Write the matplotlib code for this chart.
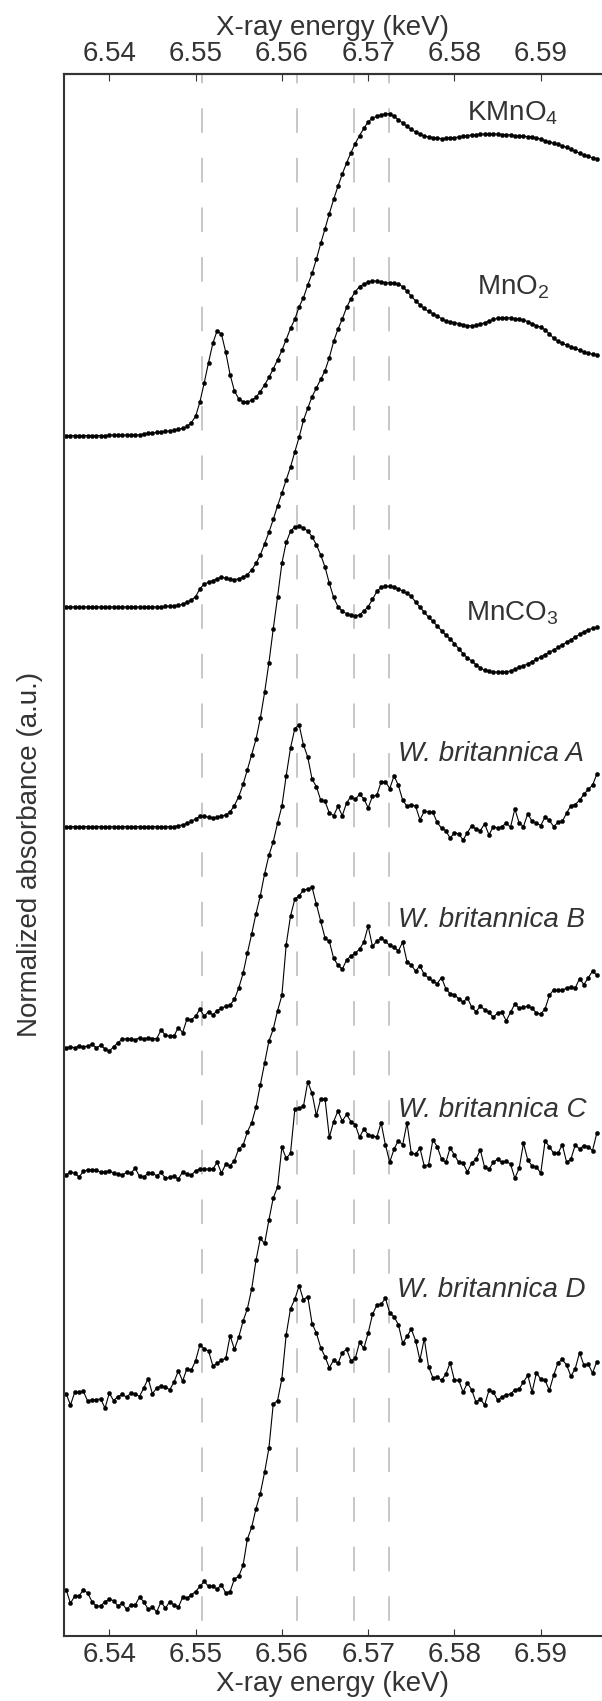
import numpy as np
import matplotlib
matplotlib.use('Agg')
import matplotlib.pyplot as plt

plt.rcParams['font.family'] = ['Liberation Sans', 'DejaVu Sans']
plt.rcParams['mathtext.default'] = 'regular'

# energy grid (keV), 0.5 eV steps
energia = np.round(6.535 + 0.0005 * np.arange(124), 4)

# normalized absorbance, each spectrum relative to its own pre-edge
kmno4 = [0.0, 0.0, 0.0, 0.0, 0.0, 0.0, 0.0, 0.0, 0.0, 0.0,
         0.005, 0.005, 0.005, 0.005, 0.005, 0.005, 0.005, 0.005, 0.015, 0.02,
         0.025, 0.03, 0.035, 0.04, 0.045, 0.052, 0.062, 0.07, 0.09, 0.125,
         0.19, 0.33, 0.52, 0.72, 0.91, 1.035, 1.0, 0.82, 0.6, 0.44,
         0.362, 0.332, 0.332, 0.347, 0.377, 0.433, 0.5, 0.573, 0.657, 0.747,
         0.84, 0.947, 1.057, 1.147, 1.27, 1.36, 1.485, 1.6, 1.74, 1.895,
         2.04, 2.19, 2.33, 2.46, 2.58, 2.69, 2.79, 2.88, 2.96, 3.03,
         3.095, 3.13, 3.15, 3.16, 3.173, 3.175, 3.148, 3.117, 3.082, 3.05,
         3.02, 2.995, 2.973, 2.955, 2.947, 2.94, 2.933, 2.93, 2.933, 2.94,
         2.94, 2.945, 2.955, 2.96, 2.965, 2.97, 2.972, 2.973, 2.976, 2.977,
         2.973, 2.97, 2.97, 2.965, 2.958, 2.955, 2.952, 2.948, 2.945, 2.937,
         2.924, 2.908, 2.895, 2.885, 2.872, 2.858, 2.842, 2.823, 2.803, 2.785,
         2.768, 2.753, 2.74, 2.73]

mno2 = [0.0, 0.0, 0.0, 0.0, 0.0, 0.0, 0.0, 0.0, 0.0, 0.0,
        0.0, 0.0, 0.0, 0.0, 0.0, 0.0, 0.0, 0.0, 0.0, 0.0,
        0.0, 0.0, 0.0, 0.005, 0.008, 0.012, 0.015, 0.028, 0.045, 0.068,
        0.1, 0.18, 0.225, 0.243, 0.26, 0.277, 0.293, 0.285, 0.272, 0.27,
        0.277, 0.293, 0.318, 0.365, 0.43, 0.513, 0.623, 0.737, 0.863, 0.997,
        1.123, 1.253, 1.38, 1.53, 1.675, 1.84, 1.96, 2.075, 2.16, 2.245,
        2.33, 2.46, 2.62, 2.74, 2.84, 2.955, 3.04, 3.11, 3.16, 3.185,
        3.205, 3.215, 3.215, 3.208, 3.2, 3.197, 3.195, 3.185, 3.16, 3.115,
        3.065, 3.02, 2.98, 2.945, 2.915, 2.893, 2.87, 2.845, 2.822, 2.81,
        2.805, 2.795, 2.785, 2.776, 2.773, 2.778, 2.79, 2.804, 2.82, 2.836,
        2.847, 2.852, 2.853, 2.851, 2.845, 2.838, 2.832, 2.815, 2.793, 2.775,
        2.76, 2.735, 2.695, 2.65, 2.62, 2.6, 2.583, 2.566, 2.55, 2.532,
        2.517, 2.504, 2.492, 2.482]

mnco3 = [0.0, 0.0, 0.0, 0.0, 0.0, 0.0, 0.0, 0.0, 0.0, 0.0,
         0.0, 0.0, 0.0, 0.0, 0.0, 0.0, 0.0, 0.0, 0.0, 0.0,
         0.0, 0.0, 0.0, 0.0, 0.0, 0.0, 0.008, 0.017, 0.03, 0.05,
         0.075, 0.1, 0.1, 0.093, 0.085, 0.09, 0.1, 0.115, 0.145, 0.207,
         0.295, 0.415, 0.56, 0.71, 0.86, 1.067, 1.323, 1.617, 1.95, 2.265,
         2.597, 2.803, 2.913, 2.957, 2.963, 2.947, 2.915, 2.86, 2.78, 2.68,
         2.56, 2.4, 2.26, 2.17, 2.125, 2.1, 2.083, 2.075, 2.09, 2.125,
         2.17, 2.24, 2.32, 2.36, 2.37, 2.37, 2.362, 2.345, 2.325, 2.3,
         2.27, 2.215, 2.165, 2.115, 2.065, 2.025, 1.98, 1.932, 1.89, 1.85,
         1.805, 1.755, 1.705, 1.665, 1.632, 1.598, 1.565, 1.54, 1.53, 1.525,
         1.523, 1.523, 1.525, 1.535, 1.552, 1.57, 1.587, 1.605, 1.628, 1.65,
         1.673, 1.697, 1.72, 1.742, 1.767, 1.792, 1.818, 1.845, 1.87, 1.895,
         1.922, 1.942, 1.955, 1.966]

wb_a = [0.0, 0.01, 0.0, 0.017, 0.01, 0.017, 0.033, 0.0, 0.023, -0.01,
        -0.033, 0.01, 0.05, 0.083, 0.09, 0.083, 0.077, 0.1, 0.083, 0.1,
        0.09, 0.09, 0.177, 0.123, 0.117, 0.117, 0.2, 0.15, 0.283, 0.277,
        0.31, 0.383, 0.31, 0.357, 0.323, 0.367, 0.39, 0.41, 0.423, 0.477,
        0.59, 0.733, 0.933, 1.123, 1.323, 1.5, 1.717, 1.9, 2.033, 2.217,
        2.383, 2.683, 2.957, 3.15, 3.185, 2.99, 2.867, 2.65, 2.577, 2.443,
        2.43, 2.317, 2.29, 2.383, 2.29, 2.417, 2.477, 2.45, 2.5, 2.457,
        2.367, 2.483, 2.49, 2.623, 2.627, 2.557, 2.683, 2.59, 2.443, 2.383,
        2.4, 2.383, 2.25, 2.333, 2.327, 2.323, 2.223, 2.167, 2.143, 2.067,
        2.123, 2.11, 2.05, 2.123, 2.19, 2.157, 2.143, 2.21, 2.1, 2.183,
        2.167, 2.183, 2.217, 2.177, 2.357, 2.217, 2.183, 2.31, 2.233, 2.217,
        2.193, 2.277, 2.243, 2.183, 2.223, 2.233, 2.317, 2.39, 2.4, 2.443,
        2.5, 2.55, 2.59, 2.7]

wb_b = [-0.007, 0.023, 0.007, -0.027, 0.027, 0.043, 0.04, 0.04, 0.017, 0.023,
        0.033, 0.01, 0.0, -0.007, 0.017, 0.007, 0.06, -0.023, -0.027, 0.008,
        0.01, -0.017, 0.017, -0.04, -0.033, -0.017, -0.05, 0.023, 0.0, -0.01,
        0.033, 0.05, 0.05, 0.05, 0.05, 0.117, 0.01, 0.1, 0.083, 0.133,
        0.25, 0.283, 0.417, 0.507, 0.66, 0.88, 1.097, 1.313, 1.43, 1.613,
        1.763, 2.263, 2.547, 2.713, 2.747, 2.803, 2.813, 2.83, 2.663, 2.497,
        2.33, 2.297, 2.13, 2.063, 2.023, 2.113, 2.153, 2.18, 2.22, 2.29,
        2.447, 2.247, 2.297, 2.33, 2.297, 2.257, 2.237, 2.203, 2.29, 2.097,
        2.063, 2.003, 2.057, 1.97, 1.937, 1.903, 1.88, 1.94, 1.83, 1.78,
        1.77, 1.73, 1.697, 1.74, 1.647, 1.603, 1.657, 1.623, 1.597, 1.547,
        1.59, 1.597, 1.513, 1.597, 1.68, 1.637, 1.647, 1.657, 1.637, 1.59,
        1.58, 1.63, 1.763, 1.82, 1.813, 1.813, 1.837, 1.847, 1.837, 1.93,
        1.87, 1.937, 2.003, 1.963]

wb_c = [0.033, -0.077, 0.05, 0.05, 0.057, -0.04, -0.023, -0.023, -0.017, -0.107,
        0.04, -0.033, 0.007, 0.027, 0.0, 0.04, 0.033, 0.007, 0.093, 0.183,
        0.033, 0.093, 0.107, 0.1, 0.073, 0.15, 0.26, 0.16, 0.283, 0.267,
        0.36, 0.517, 0.477, 0.457, 0.31, 0.333, 0.367, 0.383, 0.607, 0.473,
        0.593, 0.75, 0.873, 1.067, 1.35, 1.567, 1.517, 1.75, 1.967, 2.073,
        2.467, 2.357, 2.407, 2.84, 2.85, 2.87, 3.113, 2.998, 2.78, 2.945,
        2.945, 2.565, 2.72, 2.825, 2.725, 2.79, 2.72, 2.69, 2.565, 2.647,
        2.59, 2.578, 2.567, 2.708, 2.49, 2.32, 2.448, 2.533, 2.49, 2.707,
        2.407, 2.4, 2.457, 2.283, 2.293, 2.54, 2.473, 2.35, 2.317, 2.46,
        2.39, 2.317, 2.31, 2.223, 2.31, 2.35, 2.44, 2.267, 2.25, 2.317,
        2.35, 2.317, 2.327, 2.3, 2.16, 2.26, 2.507, 2.34, 2.283, 2.273,
        2.21, 2.527, 2.473, 2.407, 2.407, 2.493, 2.317, 2.35, 2.49, 2.45,
        2.483, 2.473, 2.433, 2.607]

wb_d = [0.1, -0.033, 0.04, 0.04, 0.1, 0.067, -0.017, -0.06, -0.06, -0.017,
        0.007, -0.007, -0.06, -0.033, -0.093, -0.05, -0.05, 0.027, -0.017, -0.093,
        -0.073, -0.117, -0.017, -0.083, -0.017, -0.05, -0.073, 0.027, 0.017, 0.05,
        0.083, 0.133, 0.183, 0.133, 0.133, 0.107, 0.15, 0.067, 0.083, 0.207,
        0.233, 0.34, 0.6, 0.717, 0.9, 1.05, 1.26, 1.5, 1.933, 1.967,
        2.183, 2.617, 2.873, 2.967, 3.1, 2.96, 2.993, 2.727, 2.633, 2.49,
        2.4, 2.29, 2.367, 2.333, 2.44, 2.473, 2.36, 2.383, 2.54, 2.483,
        2.633, 2.817, 2.907, 2.917, 2.977, 2.833, 2.793, 2.717, 2.533, 2.6,
        2.673, 2.557, 2.367, 2.577, 2.3, 2.193, 2.2, 2.167, 2.227, 2.34,
        2.167, 2.167, 2.05, 2.14, 2.073, 1.95, 1.983, 1.923, 2.067, 2.05,
        1.973, 2.0, 2.023, 2.033, 2.073, 2.083, 2.15, 2.217, 2.05, 2.243,
        2.177, 2.167, 2.067, 2.217, 2.34, 2.373, 2.317, 2.207, 2.283, 2.44,
        2.317, 2.327, 2.24, 2.35]

espectros = [kmno4, mno2, mnco3, wb_a, wb_b, wb_c, wb_d]
nombres = [r'KMnO$_4$', r'MnO$_2$', r'MnCO$_3$',
           'W. britannica A', 'W. britannica B', 'W. britannica C', 'W. britannica D']
desplaz = [11.84, 10.149, 7.982, 5.799, 4.552, 2.351, 0.351]

# label anchor (energy, baseline height) and style
etiq_x = [6.5815, 6.5826, 6.5813, 6.5735, 6.5735, 6.5735, 6.5734]
etiq_y = [14.946, 13.229, 10.01, 8.633, 6.989, 5.116, 3.335]
etiq_estilo = ['normal', 'normal', 'normal', 'italic', 'italic', 'italic', 'italic']

# reference energies (dashed lines)
lineas = [6.5508, 6.5617, 6.5684, 6.5724]

ticks = [6.54, 6.55, 6.56, 6.57, 6.58, 6.59]
tick_txt = ['6.54', '6.55', '6.56', '6.57', '6.58', '6.59']

gris = '#333333'
ytop = 15.407

fig = plt.figure(figsize=(6.02, 17.01), dpi=100)
ax = fig.add_axes([64 / 602, 1 - 1635.5 / 1701, (602 - 64) / 602, (1635.5 - 74) / 1701])

for xl in lineas:
    ax.plot([xl, xl], [ytop, 0], color='#c8c8c8', lw=1.44,
            linestyle=(7.65, (12.3, 12.5)), zorder=0)

for datos, d in zip(espectros, desplaz):
    ax.plot(energia, np.array(datos) + d, color='black', lw=0.8,
            marker='o', markersize=3.0, markerfacecolor='black',
            markeredgecolor='black', markeredgewidth=0.3, zorder=2)

for s, x, y, st in zip(nombres, etiq_x, etiq_y, etiq_estilo):
    ax.text(x, y, s, fontsize=20, color=gris, style=st, ha='left', va='baseline')

ax.set_xlim(6.53475, 6.5971)
ax.set_ylim(0, ytop)
ax.set_yticks([])
ax.set_xticks(ticks, tick_txt)
ax.tick_params(axis='x', direction='in', length=5, width=0.8, colors=gris,
               labelsize=20, pad=5, top=False)
ax.set_xlabel('X-ray energy (keV)', fontsize=20, color=gris, labelpad=2)
ax.set_ylabel('Normalized absorbance (a.u.)', fontsize=20, color=gris, labelpad=15)

sec = ax.secondary_xaxis('top')
sec.set_xticks(ticks, tick_txt)
sec.tick_params(direction='in', length=5, width=0.8, colors=gris, labelsize=20, pad=5)
sec.set_xlabel('X-ray energy (keV)', fontsize=20, color=gris, labelpad=4)
sec.spines['top'].set_linewidth(1.5)
sec.spines['top'].set_color(gris)

for lado in ['left', 'bottom', 'top']:
    ax.spines[lado].set_linewidth(1.5)
    ax.spines[lado].set_color(gris)
ax.spines['right'].set_visible(False)

fig.savefig('out.png', dpi=100)
